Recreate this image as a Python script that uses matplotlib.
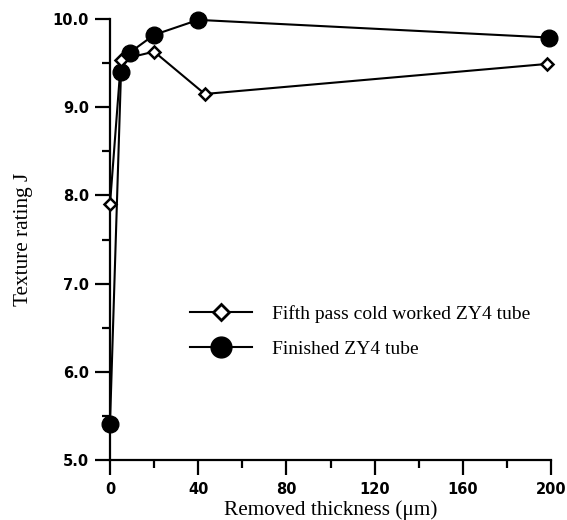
import matplotlib
matplotlib.use("Agg")
import matplotlib.pyplot as plt
from matplotlib.lines import Line2D
from matplotlib.ticker import MultipleLocator

fifth_x = [0, 5, 20, 43, 198]
fifth_y = [7.90, 9.54, 9.63, 9.15, 9.49]
fin_x = [0, 5, 9, 20, 40, 199]
fin_y = [5.41, 9.40, 9.62, 9.82, 9.99, 9.79]
xticks = [0, 40, 80, 120, 160, 200]
yticks = [5.0, 6.0, 7.0, 8.0, 9.0, 10.0]
label_fifth = "Fifth pass cold worked ZY4 tube"
label_fin = "Finished ZY4 tube"

serif = "Liberation Serif"
sans = "DejaVu Sans"

fig = plt.figure(figsize=(5.67, 5.2), dpi=100)
ax = fig.add_axes([110/567, 1-460/520, (551-110)/567, (460-19)/520])

ax.plot(fin_x, fin_y, color="black", lw=1.5, marker="o", ms=12,
        mfc="black", mec="black", clip_on=False, zorder=3)
ax.plot(fifth_x, fifth_y, color="black", lw=1.5, marker="D", ms=6.5,
        mfc="white", mec="black", mew=1.8, clip_on=False, zorder=4)

ax.set_xlim(0, 200)
ax.set_ylim(5, 10)
ax.set_xticks(xticks)
ax.set_yticks(yticks)
ax.set_yticklabels([f"{v:.1f}" for v in yticks])
ax.xaxis.set_minor_locator(MultipleLocator(20))
ax.yaxis.set_minor_locator(MultipleLocator(0.5))
for s in ["top", "right"]:
    ax.spines[s].set_visible(False)
for s in ["left", "bottom"]:
    ax.spines[s].set_linewidth(1.6)
ax.tick_params(which="major", length=11, width=1.6, direction="out")
ax.tick_params(which="minor", length=5.5, width=1.6, direction="out")
ax.tick_params(axis="x", which="major", pad=5)
ax.tick_params(axis="y", which="major", pad=4)
for lab in ax.get_xticklabels() + ax.get_yticklabels():
    lab.set_fontfamily(sans)
    lab.set_fontweight("bold")
    lab.set_fontsize(10.5)

ax.set_xlabel("Removed thickness (\u03bcm)", fontfamily=serif, fontsize=15.3, labelpad=2)
ax.set_ylabel("Texture rating J", fontfamily=serif, fontsize=15.3, labelpad=14)

h1 = Line2D([], [], color="black", lw=1.5, marker="D", ms=8, mfc="white",
            mec="black", mew=2)
h2 = Line2D([], [], color="black", lw=1.5, marker="o", ms=15, mfc="black",
            mec="black")
leg = fig.legend([h1, h2], [label_fifth, label_fin], loc="upper left",
                 bbox_to_anchor=(190/567, 1-305/520), frameon=False,
                 prop={"family": serif, "size": 14}, handlelength=3.2,
                 handletextpad=1.0, labelspacing=0.9, borderpad=0,
                 borderaxespad=0)

fig.savefig("out.png", dpi=100)
